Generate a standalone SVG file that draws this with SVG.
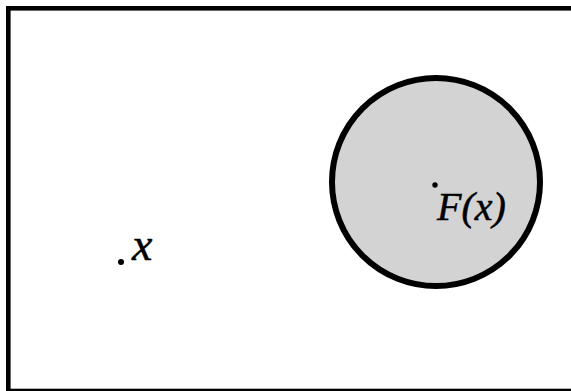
<svg xmlns="http://www.w3.org/2000/svg" width="571" height="391" viewBox="0 0 571 391">
<style>
.math{font-family:"Liberation Serif","DejaVu Serif",serif;font-style:italic;fill:#000;stroke:#000;stroke-width:0.5}
.dot{fill:#000}
</style>
<rect x="0" y="0" width="571" height="391" fill="#fff"/>
<rect id="frame" x="8.3" y="8.3" width="575" height="382.7" fill="none" stroke="#000" stroke-width="4.6"/>
<g id="set-F">
<circle cx="436" cy="182" r="104" fill="#d3d3d3" stroke="#000" stroke-width="6"/>
</g>
<g id="point-x">
<circle class="dot" cx="121" cy="262" r="3"/>
<text class="math" x="132" y="260" font-size="46">x</text>
</g>
<g id="point-Fx">
<circle class="dot" cx="435" cy="185" r="2.7"/>
<text class="math" x="437" y="220" font-size="40">F(x)</text>
</g>
<g id="connectors"></g>
</svg>
